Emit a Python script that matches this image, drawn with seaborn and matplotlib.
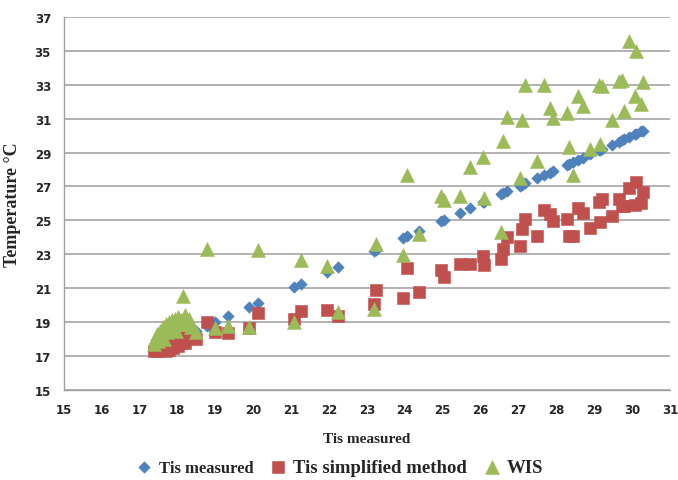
import numpy as np
import pandas as pd
import seaborn as sns
import matplotlib.pyplot as plt

# Tis measured (x axis, also plotted against itself)
tis_measured = [17.38, 17.42, 17.46, 17.50, 17.54, 17.58, 17.62, 17.66, 17.70, 17.74,
                17.78, 17.82, 17.86, 17.90, 17.94, 17.98, 18.02, 18.06, 18.10, 18.15,
                18.20, 18.25, 18.30, 18.35, 18.50, 18.78, 19.00, 19.35, 19.88, 20.14,
                21.08, 21.27, 21.94, 22.24, 23.20, 23.25, 23.95, 24.07, 24.39, 24.95,
                25.04, 25.46, 25.71, 26.06, 26.10, 26.55, 26.60, 26.71, 27.03, 27.09,
                27.18, 27.49, 27.68, 27.82, 27.91, 28.28, 28.33, 28.43, 28.58, 28.70,
                28.90, 29.12, 29.16, 29.20, 29.46, 29.64, 29.73, 29.78, 29.92, 30.08,
                30.11, 30.24, 30.28]

tis_simplified = [17.30, 17.40, 17.30, 17.50, 17.35, 17.60, 17.40, 17.80, 17.30, 17.50,
                  17.35, 17.60, 17.90, 17.50, 18.05, 17.70, 17.60, 17.90, 17.75, 18.00,
                  17.80, 18.20, 18.10, 18.30, 18.00, 19.02, 18.44, 18.34, 18.64, 19.54,
                  19.18, 19.64, 19.70, 19.38, 20.05, 20.91, 20.40, 22.17, 20.76, 22.09,
                  21.64, 22.41, 22.41, 22.88, 22.37, 22.72, 23.31, 24.00, 23.50, 24.49,
                  25.08, 24.10, 25.63, 25.37, 24.98, 25.08, 24.10, 24.10, 25.71, 25.43,
                  24.53, 26.10, 24.88, 26.26, 25.27, 26.26, 25.82, 25.82, 26.92, 25.92,
                  27.27, 26.02, 26.65]

wis = [17.70, 18.00, 18.30, 17.90, 18.50, 18.20, 18.70, 18.00, 18.90, 18.40,
       19.00, 18.60, 19.10, 18.80, 19.20, 18.50, 19.30, 18.90, 19.10, 20.56,
       19.40, 18.90, 19.20, 18.70, 18.40, 23.31, 18.64, 18.75, 18.69, 23.27,
       19.02, 22.68, 22.32, 19.61, 19.77, 23.60, 22.96, 27.67, 24.19, 26.45,
       26.21, 26.41, 28.12, 28.71, 26.30, 24.33, 29.69, 31.07, 27.48, 30.93,
       32.97, 28.51, 32.97, 31.60, 31.01, 31.32, 29.33, 27.67, 32.34, 31.75,
       29.20, 32.97, 29.50, 32.90, 30.93, 33.19, 33.27, 31.46, 35.58, 32.34,
       34.96, 31.85, 33.13]

series_names = ["Tis measured", "Tis simplified method", "WIS"]
colors = ["#4F81BD", "#C0504D", "#9BBB59"]
markers = ["D", "s", "^"]
sizes = [34, 80, 100]

df = pd.DataFrame({
    "Tis measured": tis_measured,
    "Tis simplified method": tis_simplified,
    "WIS": wis,
})
df["x"] = tis_measured

sns.set_style("white")
plt.rcParams['font.family'] = ['DejaVu Sans']

fig = plt.figure(figsize=(6.78, 4.81), dpi=100)
ax = fig.add_axes([0.0937, 0.187, 0.8946, 0.776])

for name, c, m, s in zip(series_names, colors, markers, sizes):
    sns.scatterplot(data=df, x="x", y=name, ax=ax, color=c, marker=m, s=s,
                    edgecolor=c, linewidth=0.4, label=name, zorder=3)

ax.set_xlim(15, 31)
ax.set_ylim(15, 37)
ax.set_xticks(np.arange(15, 32, 1))
ax.set_yticks(np.arange(15, 38, 2))
ax.yaxis.grid(True, color="#a6a6a6", linewidth=1.2)
ax.xaxis.grid(False)
ax.set_axisbelow(True)

for side in ["top", "right"]:
    ax.spines[side].set_visible(False)
for side in ["left", "bottom"]:
    ax.spines[side].set_color("#a0a0a0")
    ax.spines[side].set_linewidth(1.0)

ax.tick_params(axis="both", direction="out", length=4, width=1, color="#a0a0a0",
               labelsize=8.5, pad=5)
for lbl in ax.get_xticklabels() + ax.get_yticklabels():
    lbl.set_fontweight("bold")

ax.set_xlabel("Tis measured", fontfamily="Liberation Serif", fontweight="bold",
              fontsize=11, labelpad=12)
ax.set_ylabel("Temperature °C", fontfamily="Liberation Serif", fontweight="bold",
              fontsize=13, labelpad=10)

ax.get_legend().remove()
handles, labels = ax.get_legend_handles_labels()
leg = fig.legend(handles, labels, loc="center", bbox_to_anchor=(0.5, 0.027), ncol=3,
                 frameon=False, handlelength=1.0, handletextpad=0.3, columnspacing=0.9,
                 prop={"family": "Liberation Serif", "weight": "bold", "size": 13})
leg_sizes = [12, 13.5, 13.5]
for t, fs in zip(leg.get_texts(), leg_sizes):
    t.set_fontsize(fs)

plt.savefig("out.png", dpi=100)
